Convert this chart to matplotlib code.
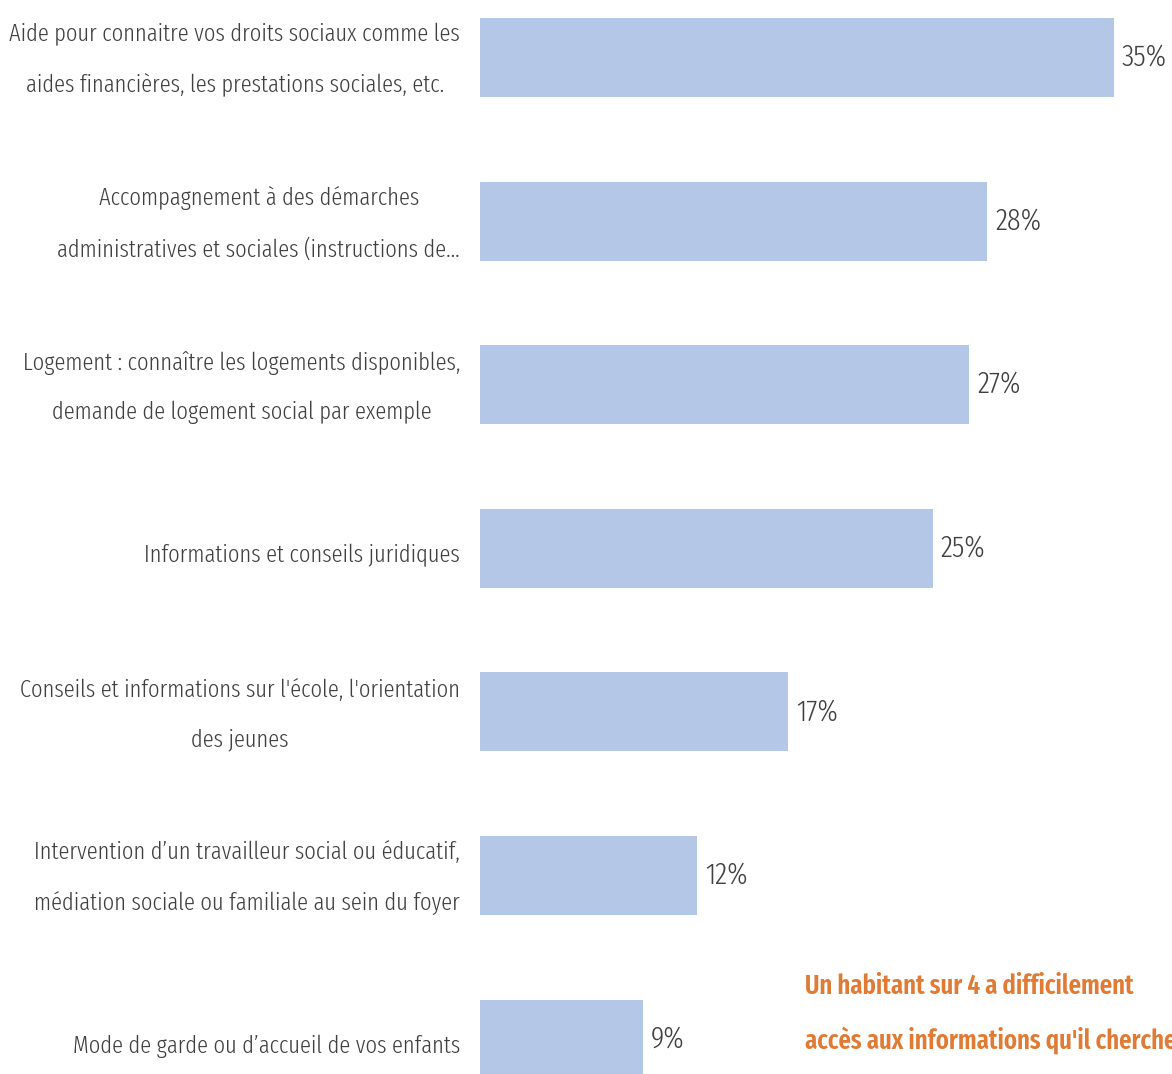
import matplotlib.pyplot as plt

# ---------------------------------------------------------
# data
# ---------------------------------------------------------
categories = [
    "Aide pour connaitre vos droits sociaux comme les\naides financières, les prestations sociales, etc.",
    "Accompagnement à des démarches\nadministratives et sociales (instructions de...",
    "Logement : connaître les logements disponibles,\ndemande de logement social par exemple",
    "Informations et conseils juridiques",
    "Conseils et informations sur l'école, l'orientation\ndes jeunes",
    "Intervention d’un travailleur social ou éducatif,\nmédiation sociale ou familiale au sein du foyer",
    "Mode de garde ou d’accueil de vos enfants",
]
values = [35, 28, 27, 25, 17, 12, 9]
note = "Un habitant sur 4 a difficilement\naccès aux informations qu'il cherche"

FONT = ["Fira Sans Extra Condensed", "DejaVu Sans"]
BAR = "#b4c7e7"
TXT = "#404040"
ORANGE = "#e07b36"

W, H = 1172, 1074
fig = plt.figure(figsize=(W / 100, H / 100), dpi=100)

# axes start where the bars start; right edge runs past the figure
x0 = 480
px_per_pct = 18.11
x_max = 40
ax = fig.add_axes([x0 / W, 0, x_max * px_per_pct / W, 1])

pos = list(range(len(values)))
ax.barh(pos, values, height=0.483, color=BAR)

# vertical scale: first bar centre at 57.5 px, 163.6 px between bars
top = -57.5 / 163.6
bottom = (H - 57.5) / 163.6
ax.set_ylim(bottom, top)
ax.set_xlim(0, x_max)
ax.set_xticks([])
ax.set_yticks([])
for s in ax.spines.values():
    s.set_visible(False)

# category labels, right-aligned left of the bars, lines centred
for p, cat in zip(pos, categories):
    dy = -2 if "\n" in cat else -5
    ax.annotate(cat, xy=(0, p), xytext=(-14.4, dy), textcoords="offset points",
                ha="right", va="center", multialignment="center",
                fontsize=17.6, color=TXT, family=FONT, fontweight=300,
                linespacing=2.45, annotation_clip=False)

for p, v in zip(pos, values):
    ax.text(v + 0.45, p, f"{v}%", va="center", ha="left",
            fontsize=22, color=TXT, family=FONT, fontweight=300)

fig.text(805 / W, 1 - 1014 / H, note, ha="left", va="center",
         fontsize=19.4, color=ORANGE, fontweight=600, family=FONT,
         linespacing=2.2)

fig.savefig("out.png", dpi=100)
